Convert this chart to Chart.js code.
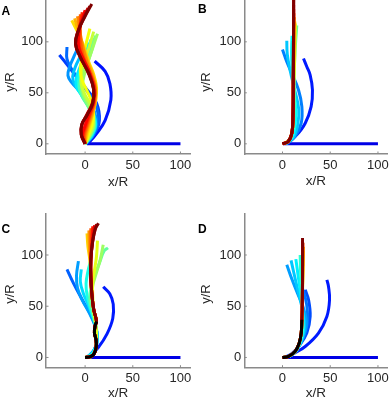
<!DOCTYPE html>
<html><head><meta charset="utf-8">
<script src="https://cdn.jsdelivr.net/npm/chart.js@4/dist/chart.umd.min.js"></script>
<style>
html,body{margin:0;padding:0;background:#fff;width:389px;height:402px;overflow:hidden;}
.p{position:absolute;}
canvas{display:block;}
</style></head><body>
<div class="p" style="left:0;top:0;width:195px;height:200px"><canvas id="cA" width="195" height="200"></canvas></div>
<div class="p" style="left:195px;top:0;width:194px;height:200px"><canvas id="cB" width="194" height="200"></canvas></div>
<div class="p" style="left:0;top:200px;width:195px;height:202px"><canvas id="cC" width="195" height="202"></canvas></div>
<div class="p" style="left:195px;top:200px;width:194px;height:202px"><canvas id="cD" width="194" height="202"></canvas></div>
<script>
// ---- tick labels / titles ----
const xTicks = [0, 50, 100];
const yTicks = [0, 50, 100];
const xTitle = 'x/R';
const yTitle = 'y/R';
const panelLetters = ['A', 'B', 'C', 'D'];

// ---- panel A: filament shapes, in time order (x/R, y/R) ----
const A_curves = [
 [[2,0],[100,0]],
 [[3,0],[12,10],[21,23],[27,43],[26,59],[21,71],[10,81]],
 [[1,0],[10,10],[15,23],[12,40],[2,53],[-10,67],[-20,79],[-27,87]],
 [[1,0],[9,9],[14,21],[12,36],[4,49],[-6,62],[-14,73],[-19,83],[-19,95]],
 [[0,0],[8,8],[12,19],[10,31],[3,42],[-6,52],[-14,60],[-18,67],[-16,76],[-12,85],[-8,93]],
 [[0,0],[7,8],[11,18],[9,29],[3,40],[-5,50],[-11,58],[-13,66],[-10,76],[-5,86],[-1,96]],
 [[0,0],[7,8],[11,18],[9,28],[3,38],[-4,48],[-9,56],[-9,65],[-5,76],[0,88],[4,99]],
 [[0,0],[6,8],[10,17],[9,27],[4,37],[-3,47],[-7,57],[-6,68],[-2,80],[3,92],[6,102]],
 [[0,0],[6,8],[10,17],[8,27],[3,37],[-3,46],[-6,55],[-4,66],[0,78],[5,91],[9,104]],
 [[0,0],[5,8],[9,17],[8,27],[3,37],[-2,46],[-4,55],[-2,66],[2,78],[7,92],[11,106]],
 [[0,0],[5,8],[9,18],[8,28],[4,38],[-1,47],[-3,56],[-1,67],[3,80],[8,94],[13,108]],
 [[0,0],[4,8],[8,18],[9,28],[6,38],[0,48],[-4,58],[-4,68],[-1,80],[4,94],[9,110]],
 [[0,0],[3,8],[7,18],[9,30],[7,41],[2,52],[-3,62],[-5,72],[-3,84],[1,98],[5,113]],
 [[0,0],[2,8],[5,18],[8,30],[11,42],[12,55],[9,68],[4,80],[0,92],[-6,106],[-14,121]],
 [[0,0],[1,8],[4,18],[8,30],[11,42],[11,55],[8,68],[3,80],[-1,92],[-6,107],[-11,123]],
 [[0,0],[0,8],[3,18],[7,30],[10,42],[11,55],[7,68],[2,80],[-2,93],[-5,108],[-8,125]],
 [[0,0],[-1,8],[2,18],[6,30],[10,42],[10,55],[6,68],[0,81],[-4,94],[-5,110],[-5,127]],
 [[0,0],[-2,8],[1,18],[5,29],[9,41],[10,55],[5,69],[-1,82],[-6,95],[-6,111],[-3,129]],
 [[0,0],[-3,8],[0,18],[4,29],[9,41],[9,54],[5,69],[-2,83],[-7,96],[-6,112],[0,131]],
 [[0,0],[-4,9],[-3,19],[2,29],[8,41],[9,54],[4,69],[-5,85],[-10,98],[-7,112],[-1,125],[3,133]],
 [[0,0],[-4,9],[-3.5,19],[2,28],[8,40],[9,53],[4,69],[-5,85],[-10,98],[-7,111],[-1,124],[5,135]],
 [[0,0],[-4,9],[-3.5,19],[2,28],[8,40],[9,53],[3.5,69],[-5,85],[-10,98],[-7,111],[0,125],[7,137]]
];

// ---- panel B ----
const B_curves = [
 [[1,0],[100,0]],
 [[4.5,0],[15,8.8],[23.8,20.2],[30,36.5],[31.4,52.8],[29,67.4],[25.5,75.6],[22,83.7]],
 [[4.5,0],[13.3,7.2],[19.6,20.2],[20.3,36.5],[16.8,52.8],[9.8,69],[4.5,80.5],[0,92.5]],
 [[4,0],[12,7],[16,19],[17,34],[13,52],[8,72],[5,88],[4.5,101]],
 [[3,0],[10,6],[13,17],[14,32],[12,52],[10,74],[9.5,90],[10,106]],
 [[2,0],[8,5],[11,15],[12,32],[12,60],[13,88],[15,116]],
 [[1.5,0],[7,4],[10.5,13],[11.5,30],[12,60],[13,90],[13.5,118]],
 [[1,0],[7,3],[10,12],[11,28],[11.5,60],[12.5,95],[13,120]],
 [[0.5,0],[6.5,2.5],[10,11],[11,27],[11.3,60],[12,100],[12.5,124]],
 [[0,0],[6,2.3],[9.8,10.4],[11,27],[11.3,60],[11.8,100],[12,128]],
 [[0,0],[6,2.3],[9.8,10.4],[11,27],[11.3,60],[11.6,100],[11.8,132]],
 [[0,0],[6,2.3],[9.8,10.4],[11,27],[11.3,60],[11.5,100],[11.7,136]],
 [[0,0],[6,2.3],[9.8,10.4],[11,27],[11.3,60],[11.5,100],[11.7,141]],
 [[0,0],[6,2.3],[9.8,10.4],[11,27],[11.3,60],[11.5,100],[11.7,141]]
];

// ---- panel C ----
const C_curves = [
 [[1,0],[100,0]],
 [[3.5,0],[14,10],[23,23],[29,38],[29.5,52],[26,62],[19,69]],
 [[2,0],[10,8],[13,20],[10,33],[4,45],[-4,58],[-12,72],[-19,86]],
 [[2,0],[10,8],[13,20],[10,32],[4,44],[-3,56],[-8,68],[-9,80],[-7,94]],
 [[1,0],[8,5],[12,14],[12,28],[8,40],[3,52],[-2,63],[-5,74],[-4,86]],
 [[1,0],[8,4],[12,12],[12,26],[9,38],[5,50],[2,61],[1,72],[3,84],[6,95]],
 [[0,0],[7,1],[11,8],[12,20],[11,32],[8,44],[5,56],[6,68],[10,80],[15,92],[20,104],[24,107]],
 [[0,0],[7,1],[11,8],[12,20],[11,33],[9,46],[7,58],[8,70],[12,83],[16,96],[19,110]],
 [[0,0],[7,1],[11,8],[12,20],[11,33],[9,46],[8,60],[8,73],[10,86],[12,99],[13,114]],
 [[0,0],[5,0.5],[9,3],[11.6,10],[11.5,17],[9.8,24],[10.5,31],[12,35],[9,47],[7,63],[6,79],[5,95],[3,108],[2,121]],
 [[0,0],[5,0.5],[9,3],[11.6,10],[11.5,17],[9.8,24],[10.5,31],[12,35],[9,47],[7,63],[6,79],[5.5,95],[4.5,109],[4,124]],
 [[0,0],[5,0.5],[9,3],[11.6,10],[11.5,17],[9.8,24],[10.5,31],[12,35],[9,47],[7,63],[6,79],[6,95],[6,110],[6,126]],
 [[0,0],[5,0.5],[9,3],[11.6,10],[11.5,17],[9.8,24],[10.5,31],[12,35],[9,47],[7,63],[6,79],[6,95],[7,110],[8,128]],
 [[0,0],[5,0.5],[9,3],[11.6,10],[11.5,17],[9.8,24],[10.5,31],[12,35],[9,47],[7,63],[6,79],[6,95],[7.5,111],[10,129]],
 [[0,0],[5,0.5],[9,3],[11.6,10],[11.5,17],[9.8,24],[10.5,31],[12,35],[9,47],[7,63],[6,79],[6,95],[7.7,111.7],[10,123],[12,130]],
 [[0,0],[5,0.5],[9,3],[11.6,10],[11.5,17],[9.8,24],[10.5,31],[12,35],[9,47],[7,63],[6,79],[6,95],[7.7,111.7],[10.5,124.7],[14,131]]
];
const C_black = [[0,0],[5,0.5],[9,3],[11.6,10],[11.5,17],[9.8,24],[10.5,31],[12,35]];

// ---- panel D ----
const D_curves = [
 [[0,0],[100,0]],
 [[3,0],[12,4],[23.8,10.7],[37.7,23.8],[46.5,40],[49.3,56.3],[48.2,69.3],[46.5,75.8]],
 [[2,0],[10,4],[17,10.7],[25.5,23.8],[29,40],[27.3,56.3],[23.8,66]],
 [[2,0],[10,3],[16,9],[22,20],[26,33],[26,46],[24,58],[21,67]],
 [[1,0],[9,2],[15,8],[21,18],[25,33],[22,48],[16,62],[10,76],[4.5,90.5]],
 [[1,0],[9,2],[15,7],[20,17],[23,30],[21,46],[17,62],[13,78],[9,94.7]],
 [[1,0],[8,1.5],[14,6],[19,15],[22,28],[21,45],[19,62],[16.5,79],[14,96]],
 [[0.5,0],[7,1],[13,5],[18,13],[21,26],[21,45],[20,65],[19,83],[18.5,100]],
 [[0,0],[6.3,1],[13.3,5.9],[17.5,14],[19.6,23.8],[20.3,36.8],[20.8,60],[21.5,85],[22,104]],
 [[0,0],[6.3,1],[13.3,5.9],[17.5,14],[19.6,23.8],[20.3,36.8],[20.8,60],[21.5,85],[22,108]],
 [[0,0],[6.3,1],[13.3,5.9],[17.5,14],[19.6,23.8],[20.3,36.8],[20.8,60],[21.2,85],[21.5,112]],
 [[0,0],[6.3,1],[13.3,5.9],[17.5,14],[19.6,23.8],[20.3,36.8],[20.8,60],[21,85],[21,114]],
 [[0,0],[6.3,1],[13.3,5.9],[17.5,14],[19.6,23.8],[20.3,36.8],[20.8,60],[21,85],[21,116.5]]
];
const D_black = [[0,0],[6.3,1],[13.3,5.9],[17.5,14],[19.6,23.8],[20.3,36.8]];

// ---- styling (colour position in jet map for each curve) ----
const A_tone = A_curves.map((c,i)=>0.1 + 0.9*i/(A_curves.length-1));
const B_tone = [0.1,0.15,0.25,0.32,0.38,0.48,0.58,0.66,0.72,0.78,0.84,0.9,0.95,1.0];
const C_tone = [0.1,0.15,0.22,0.28,0.34,0.4,0.47,0.53,0.6,0.67,0.73,0.79,0.85,0.9,0.95,1.0];
const D_tone = [0.1,0.15,0.2,0.24,0.28,0.32,0.36,0.42,0.6,0.7,0.8,0.9,1.0];

const FONT = '"Liberation Sans", Arial, Helvetica, sans-serif';
const AXIS = '#8a8a8a';
const TXT = '#262626';

function jet(t){
  const c = v => Math.round(255*Math.max(0, Math.min(1, v)));
  return `rgb(${c(1.5-Math.abs(4*t-3))},${c(1.5-Math.abs(4*t-2))},${c(1.5-Math.abs(4*t-1))})`;
}

function makePanel(id, curves, tones, black, g, letter){
  const datasets = curves.map((c,i)=>({
    data: c.map(p=>({x:p[0], y:p[1]})),
    borderColor: jet(tones[i]), borderWidth: 3, showLine: true,
    pointRadius: 0, tension: 0.4, fill: false, order: -i
  }));
  if (black) datasets.push({
    data: black.map(p=>({x:p[0], y:p[1]})), borderColor: '#000', borderWidth: 3,
    showLine: true, pointRadius: 0, tension: 0.4, fill: false, order: -1000
  });
  const deco = {
    id: 'deco',
    afterDraw(chart){
      const ctx = chart.ctx, a = chart.chartArea, xs = chart.scales.x, ys = chart.scales.y;
      ctx.save();
      ctx.strokeStyle = AXIS; ctx.lineWidth = 1;
      ctx.beginPath();
      xTicks.forEach(v=>{const px = xs.getPixelForValue(v); ctx.moveTo(px, a.bottom); ctx.lineTo(px, a.bottom-2.5);});
      yTicks.forEach(v=>{const py = ys.getPixelForValue(v); ctx.moveTo(a.left, py); ctx.lineTo(a.left+2.5, py);});
      ctx.stroke();
      ctx.fillStyle = '#000'; ctx.textBaseline = 'middle'; ctx.textAlign = 'left';
      ctx.font = 'bold 12px ' + FONT;
      ctx.fillText(letter, g.lx, g.ly);
      ctx.fillStyle = TXT; ctx.font = '13px ' + FONT; ctx.textAlign = 'center';
      ctx.translate(g.ytx, g.yty); ctx.rotate(-Math.PI/2);
      ctx.fillText(yTitle, 0, 0);
      ctx.restore();
    }
  };
  return new Chart(document.getElementById(id), {
    type: 'scatter',
    data: { datasets },
    options: {
      responsive: false, animation: false, devicePixelRatio: 1,
      layout: { padding: { left: 0, right: g.right, top: g.top, bottom: 0 } },
      plugins: { legend: { display: false }, tooltip: { enabled: false } },
      scales: {
        x: {
          type: 'linear', min: g.xmin, max: g.xmax,
          grid: { display: false, drawTicks: false },
          border: { display: true, color: AXIS, width: 1.5 },
          afterBuildTicks: s => { s.ticks = xTicks.map(v=>({value: v})); },
          afterFit: s => { s.height = g.xh; s.paddingLeft = 0; s.paddingRight = 0; },
          ticks: { padding: g.xtp, color: TXT, font: { family: FONT, size: 13 }, maxRotation: 0 },
          title: { display: true, text: xTitle, color: TXT, font: { family: FONT, size: 13.5 }, padding: { top: 0, bottom: g.xtitle } }
        },
        y: {
          type: 'linear', min: g.ymin, max: g.ymax,
          grid: { display: false, drawTicks: false },
          border: { display: true, color: AXIS, width: 1.5 },
          afterBuildTicks: s => { s.ticks = yTicks.map(v=>({value: v})); },
          afterFit: s => { s.width = g.yw; s.paddingTop = 0; s.paddingBottom = 0; },
          ticks: { padding: 3, color: TXT, font: { family: FONT, size: 13 } },
          title: { display: false }
        }
      }
    },
    plugins: [deco]
  });
}

makePanel('cA', A_curves, A_tone, null,
  {right:5, top:0, xmin:-41, xmax:110, ymin:-10, ymax:141, xh:46, yw:46, xtp:4, xtitle:9.6, lx:1.5, ly:12, ytx:10, yty:82}, panelLetters[0]);
makePanel('cB', B_curves, B_tone, null,
  {right:1.5, top:0, xmin:-40, xmax:110, ymin:-10, ymax:141, xh:46, yw:49.3, xtp:4, xtitle:10.2, lx:3, ly:10, ytx:11, yty:82}, panelLetters[1]);
makePanel('cC', C_curves, C_tone, C_black,
  {right:5, top:14, xmin:-41, xmax:110, ymin:-10, ymax:140, xh:34.3, yw:46, xtp:3.4, xtitle:0.6, lx:1.5, ly:30, ytx:10, yty:94}, panelLetters[2]);
makePanel('cD', D_curves, D_tone, D_black,
  {right:1.5, top:14, xmin:-40, xmax:110, ymin:-10, ymax:140, xh:34.3, yw:49.3, xtp:3.4, xtitle:0.6, lx:3, ly:30, ytx:11, yty:94}, panelLetters[3]);
</script>
</body></html>
